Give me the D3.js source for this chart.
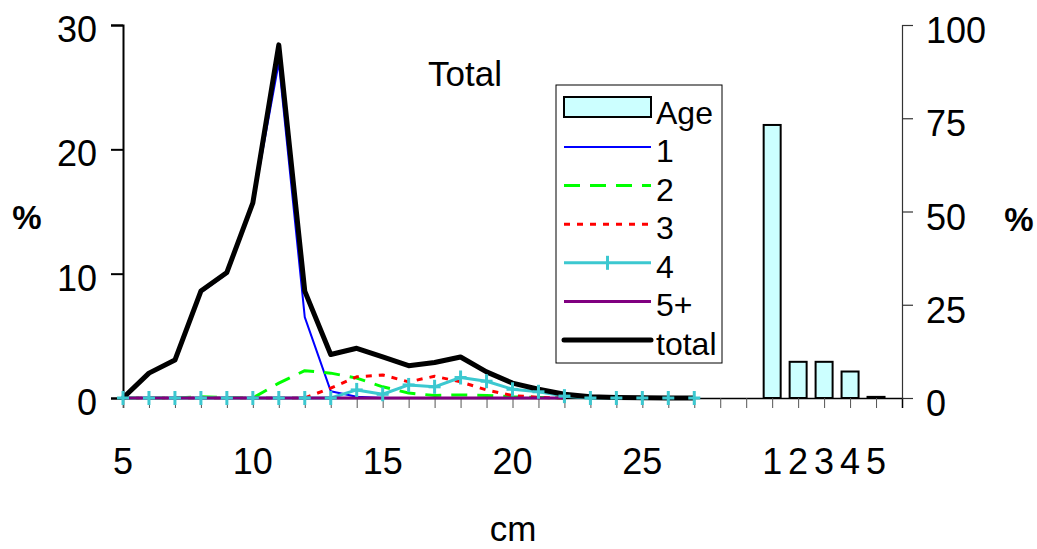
<!DOCTYPE html>
<html>
<head>
<meta charset="utf-8">
<script src="https://cdn.jsdelivr.net/npm/d3@7"></script>
<style>
  body { margin: 0; background: #fff; }
  text { font-family: "Liberation Sans", Arial, sans-serif; fill: #000; }
</style>
</head>
<body>
<div id="chart"></div>
<script>
// length classes (cm)
const lengths = d3.range(5, 28);
// age composition per length class, % (5..22 cm)
const age1 = [0, 2.0, 3.0, 8.5, 10.0, 15.6, 27.0, 6.5, 0.55, 0.1, 0, 0, 0, 0, 0, 0, 0, 0];
const age2 = [0, 0, 0, 0.1, 0.05, 0, 1.2, 2.2, 2.0, 1.6, 0.9, 0.4, 0.2, 0.25, 0.2, 0.1, 0.05, 0];
const age3 = [0, 0, 0, 0, 0, 0, 0, 0, 0.8, 1.7, 1.85, 1.3, 1.75, 1.3, 0.65, 0.2, 0.05, 0];
const age5 = [0, 0, 0, 0, 0, 0, 0, 0, 0, 0, 0, 0, 0, 0, 0, 0, 0, 0];
// 5..27 cm
const age4 = [0, 0, 0, 0, 0, 0, 0, 0, 0, 0.65, 0.3, 1.05, 0.9, 1.65, 1.35, 0.7, 0.5, 0.15, 0, 0, 0, 0, 0];
const total = [0, 2.0, 3.05, 8.6, 10.1, 15.7, 28.4, 8.6, 3.5, 4.0, 3.3, 2.6, 2.85, 3.3, 2.1, 1.2, 0.7, 0.3, 0.1, 0.05, 0.02, 0, 0];
// age distribution, %
const ages = ["1", "2", "3", "4", "5"];
const agePct = [73.2, 9.7, 9.7, 7.1, 0.3];

const lengthTicks = [5, 10, 15, 20, 25];
const leftTicks = [0, 10, 20, 30];
const rightTicks = [0, 25, 50, 75, 100];

const width = 1037, height = 549;
const svg = d3.select("#chart").append("svg")
    .attr("width", width)
    .attr("height", height);

// category slots: 5..27 cm, two blanks, ages 1..5, one blank
const x = d3.scaleLinear().domain([0, 30]).range([123, 902]);
const xLen = cm => x(cm - 5);
const xAge = i => x(25 + i);
const y = d3.scaleLinear().domain([0, 30]).range([398, 25]);
const y2 = d3.scaleLinear().domain([0, 100]).range([398, 25]);

// bars
svg.append("g").selectAll("rect")
    .data(agePct)
    .join("rect")
    .attr("x", (d, i) => xAge(i) - 8.5)
    .attr("y", d => y2(d))
    .attr("width", 17)
    .attr("height", d => y2(0) - y2(d))
    .attr("fill", "#ccffff")
    .attr("stroke", "#000")
    .attr("stroke-width", 2);

// axes
const xAxis = svg.append("g").attr("transform", "translate(0,398)")
    .call(d3.axisBottom(x).tickValues(d3.range(0, 30)).tickSize(10).tickFormat(""));
xAxis.select(".domain").attr("stroke", "#000").attr("stroke-width", 1.5);
xAxis.selectAll(".tick line").attr("stroke", "#555");

const yAxis = svg.append("g").attr("transform", "translate(123,0)")
    .call(d3.axisLeft(y).tickValues(leftTicks).tickSize(12).tickFormat(""));
yAxis.select(".domain").attr("stroke", "#000").attr("stroke-width", 2);
yAxis.selectAll(".tick line").attr("stroke", "#000").attr("stroke-width", 2);

const y2Axis = svg.append("g").attr("transform", "translate(902,0)")
    .call(d3.axisRight(y2).tickValues(rightTicks).tickSize(11).tickFormat(""));
y2Axis.select(".domain").attr("stroke", "#333").attr("stroke-width", 1.2);
y2Axis.selectAll(".tick line").attr("stroke", "#333").attr("stroke-width", 1.2);

// tick labels
svg.append("g").selectAll("text")
    .data(leftTicks)
    .join("text")
    .attr("x", 97)
    .attr("y", d => y(d) + 17)
    .attr("text-anchor", "end")
    .attr("font-size", 36)
    .text(d => d);

svg.append("g").selectAll("text")
    .data(rightTicks)
    .join("text")
    .attr("x", 926)
    .attr("y", d => y2(d) + 18)
    .attr("font-size", 36)
    .text(d => d);

svg.append("g").selectAll("text")
    .data(lengthTicks)
    .join("text")
    .attr("x", d => xLen(d))
    .attr("y", 474)
    .attr("text-anchor", "middle")
    .attr("font-size", 36)
    .text(d => d);

svg.append("g").selectAll("text")
    .data(ages)
    .join("text")
    .attr("x", (d, i) => xAge(i))
    .attr("y", 474)
    .attr("text-anchor", "middle")
    .attr("font-size", 36)
    .text(d => d);

// axis titles
svg.append("text").attr("x", 27).attr("y", 229).attr("text-anchor", "middle")
    .attr("font-size", 33).attr("font-weight", "bold").text("%");
svg.append("text").attr("x", 1019).attr("y", 231).attr("text-anchor", "middle")
    .attr("font-size", 33).attr("font-weight", "bold").text("%");
svg.append("text").attr("x", 513).attr("y", 541).attr("text-anchor", "middle")
    .attr("font-size", 35).text("cm");
svg.append("text").attr("x", 465).attr("y", 86).attr("text-anchor", "middle")
    .attr("font-size", 35).text("Total");

// lines
const series = [
    { name: "1", values: age1, color: "#0000ff", width: 2, dash: null },
    { name: "2", values: age2, color: "#00ff00", width: 3, dash: "16,10" },
    { name: "3", values: age3, color: "#ff0000", width: 3, dash: "6,7" },
    { name: "4", values: age4, color: "#3cc8d0", width: 3, dash: null, marker: true },
    { name: "5+", values: age5, color: "#800080", width: 3, dash: null },
    { name: "total", values: total, color: "#000", width: 5, dash: null }
];

const line = d3.line()
    .x((d, i) => xLen(lengths[i]))
    .y(d => y(d));

svg.append("g").selectAll("path")
    .data(series)
    .join("path")
    .attr("d", d => line(d.values))
    .attr("fill", "none")
    .attr("stroke", d => d.color)
    .attr("stroke-width", d => d.width)
    .attr("stroke-dasharray", d => d.dash)
    .attr("stroke-linejoin", "round");

// "+" markers for age 4
const plus = svg.append("g").attr("stroke", "#3cc8d0").attr("stroke-width", 3);
age4.forEach((v, i) => {
    const cx = xLen(lengths[i]), cy = y(v);
    plus.append("line").attr("x1", cx - 6).attr("x2", cx + 6).attr("y1", cy).attr("y2", cy);
    plus.append("line").attr("x1", cx).attr("x2", cx).attr("y1", cy - 7).attr("y2", cy + 7);
});

// legend
const legend = svg.append("g");
legend.append("rect")
    .attr("x", 556).attr("y", 85).attr("width", 166).attr("height", 278)
    .attr("fill", "#fff").attr("stroke", "#000").attr("stroke-width", 1);
legend.append("rect")
    .attr("x", 564).attr("y", 97).attr("width", 87).attr("height", 20)
    .attr("fill", "#ccffff").attr("stroke", "#000").attr("stroke-width", 2);
legend.append("text").attr("x", 656).attr("y", 124).attr("font-size", 32).text("Age");

const rowY = i => 147 + i * 38.6;
series.forEach((s, i) => {
    legend.append("line")
        .attr("x1", 564).attr("x2", 651)
        .attr("y1", rowY(i)).attr("y2", rowY(i))
        .attr("stroke", s.color)
        .attr("stroke-width", s.width)
        .attr("stroke-dasharray", s.dash)
        .attr("stroke-linecap", s.name === "total" ? "round" : "butt");
    if (s.marker) {
        legend.append("line").attr("x1", 607.5).attr("x2", 607.5)
            .attr("y1", rowY(i) - 7).attr("y2", rowY(i) + 7)
            .attr("stroke", s.color).attr("stroke-width", 3);
    }
    legend.append("text").attr("x", 656).attr("y", rowY(i) + 15)
        .attr("font-size", 32).text(s.name);
});
</script>
</body>
</html>
